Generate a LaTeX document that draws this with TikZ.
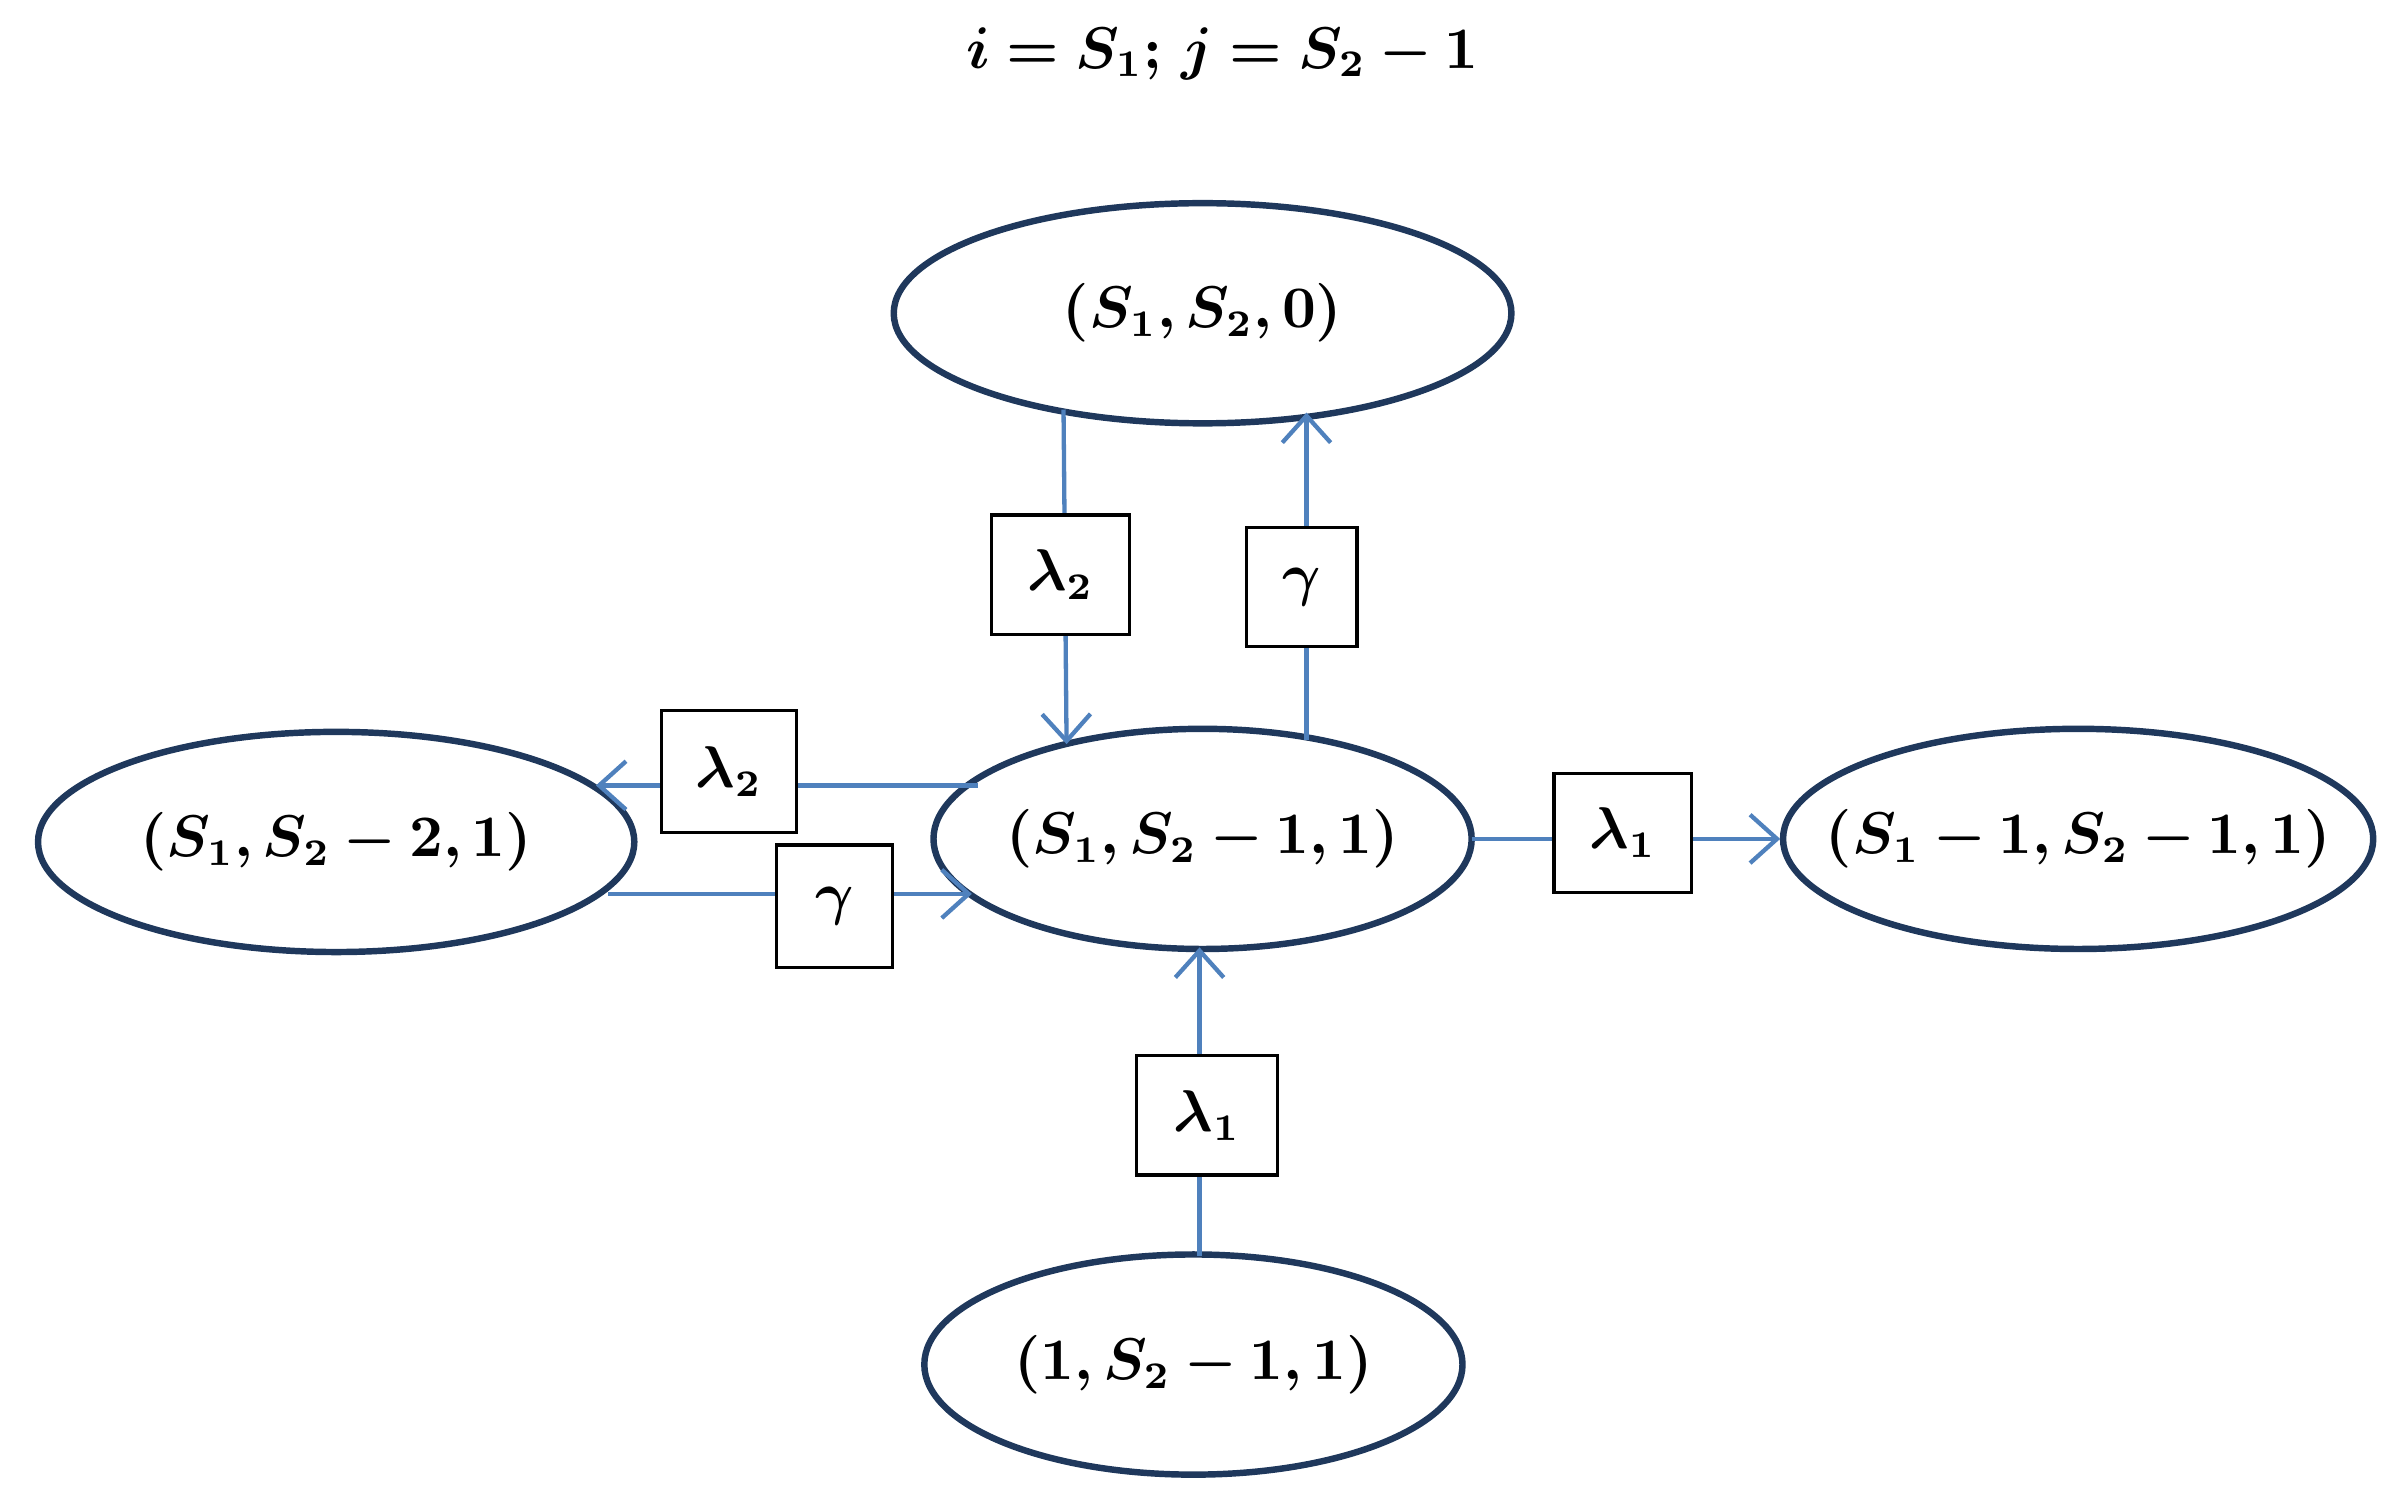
\documentclass[tikz,border=0pt]{standalone}
\usepackage{amsmath,bm}
\usetikzlibrary{arrows.meta,shapes.geometric}
\begin{document}
\begin{tikzpicture}[x=0.01cm,y=-0.01cm,
  st/.style={draw={rgb,255:red,31;green,56;blue,92}, line width=1.2pt, ellipse, inner sep=0pt, label={[font=\fontsize{10.5}{12}\selectfont]center:#1}},
  lb/.style={draw=black, fill=white, line width=0.6pt, inner sep=0pt, font=\fontsize{10.5}{12}\selectfont},
  ar/.style={draw={rgb,255:red,79;green,129;blue,189}, line width=0.8pt, -{Straight Barb[length=5pt,width=9pt]}}]
\useasboundingbox (0,0) rectangle (1568,988);
\node[font=\fontsize{10.5}{12}\selectfont] (title) at (800,35) {$\bm{i=S_1;\,j=S_2-1}$};
\node[st={$\bm{(S_1,S_2,0)}$},minimum width=4.04cm,minimum height=1.44cm] (top) at (787,205) {};
\node[st={$\bm{(S_1,S_2-2,1)}$},minimum width=3.9cm,minimum height=1.44cm] (left) at (220,551) {};
\node[st={$\bm{(S_1,S_2-1,1)}$},minimum width=3.52cm,minimum height=1.44cm] (c) at (787,549) {};
\node[st={$\bm{(S_1-1,S_2-1,1)}$},minimum width=3.86cm,minimum height=1.44cm] (right) at (1360,549) {};
\node[st={$\bm{(1,S_2-1,1)}$},minimum width=3.52cm,minimum height=1.44cm] (bot) at (781,893) {};
\coordinate (a1) at (696,268); \coordinate (a2) at (698,487);
\coordinate (b1) at (855,484); \coordinate (b2) at (855,270);
\coordinate (d1) at (640,514); \coordinate (d2) at (390,514);
\coordinate (e1) at (398,585); \coordinate (e2) at (636,585);
\coordinate (f1) at (963,549); \coordinate (f2) at (1165,549);
\coordinate (g1) at (785,822); \coordinate (g2) at (785,620);
\draw[ar] (a1) -- (a2);
\draw[ar] (b1) -- (b2);
\draw[ar] (d1) -- (d2);
\draw[ar] (e1) -- (e2);
\draw[ar] (f1) -- (f2);
\draw[ar] (g1) -- (g2);
\node[lb,minimum width=0.9cm,minimum height=0.78cm] (l1) at (694,376) {$\bm{\lambda_2}$};
\node[lb,minimum width=0.72cm,minimum height=0.78cm] (l2) at (852,384) {$\bm{\gamma}$};
\node[lb,minimum width=0.88cm,minimum height=0.8cm] (l3) at (477,505) {$\bm{\lambda_2}$};
\node[lb,minimum width=0.76cm,minimum height=0.8cm] (l4) at (546,593) {$\bm{\gamma}$};
\node[lb,minimum width=0.9cm,minimum height=0.78cm] (l5) at (1062,545) {$\bm{\lambda_1}$};
\node[lb,minimum width=0.92cm,minimum height=0.78cm] (l6) at (790,730) {$\bm{\lambda_1}$};
\end{tikzpicture}
\end{document}
